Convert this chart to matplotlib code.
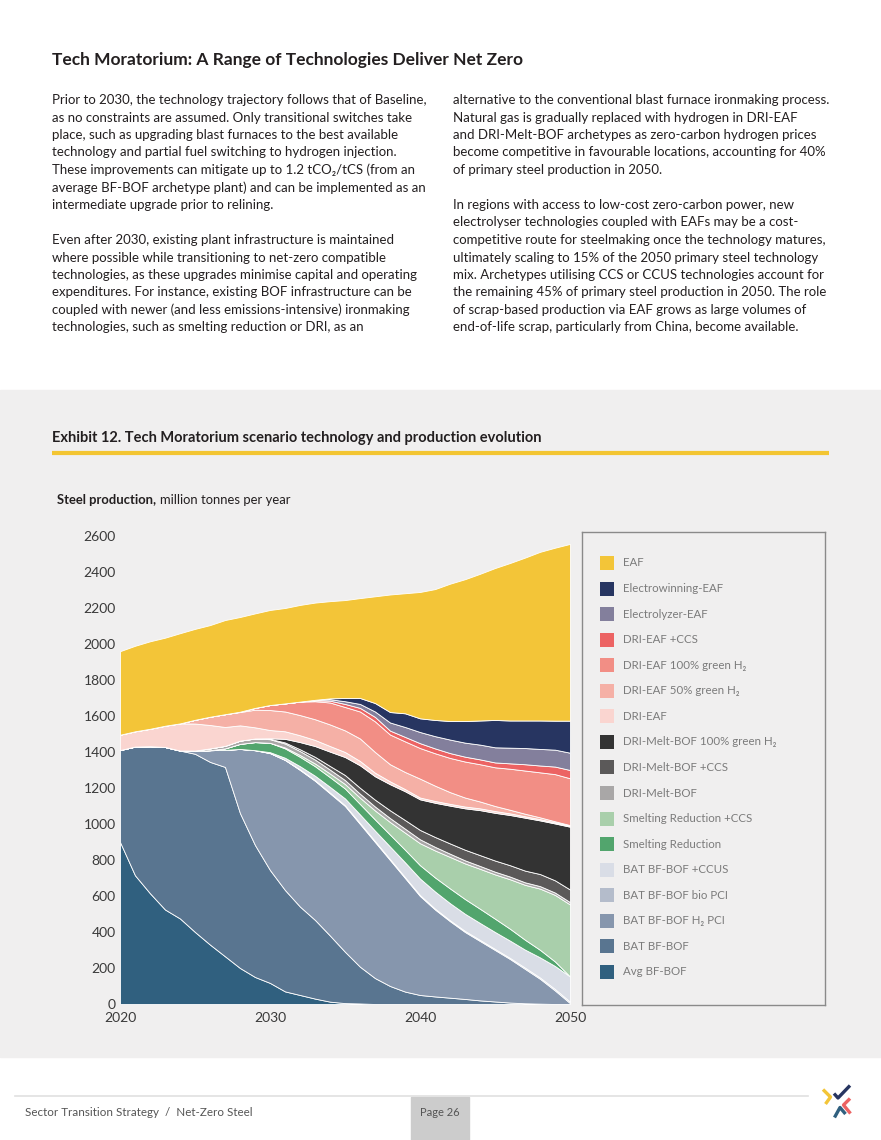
import matplotlib.pyplot as plt
from matplotlib.patches import Rectangle
from matplotlib.lines import Line2D

plt.rcParams['font.family'] = ['Lato', 'DejaVu Sans']

# ---- data (million tonnes per year) ----
YEARS = list(range(2020, 2051))

AVG_BF_BOF = [900, 715, 615, 525, 475, 400, 330, 265, 200, 150,
              117, 70, 50, 30, 13, 5, 3, 0, 0, 0,
              0, 0, 0, 0, 0, 0, 0, 0, 0, 0, 0]
BAT_BF_BOF = [511, 715, 817, 903, 933, 990, 1015, 1052, 860, 733,
              627, 563, 491, 437, 367, 285, 204, 144, 100, 69,
              50, 42, 35, 28, 20, 14, 8, 4, 2, 0, 0]
BAT_H2_PCI = [0, 0, 0, 0, 0, 15, 65, 95, 357, 527,
              650, 723, 759, 773, 790, 810, 793, 756, 700, 631,
              550, 483, 425, 372, 330, 286, 242, 191, 138, 75, 5]
BAT_BIO_PCI = [0, 0, 0, 0, 0, 0, 0, 0, 0, 0,
               0, 0, 3, 3, 4, 4, 5, 5, 5, 5,
               5, 5, 5, 6, 6, 6, 6, 7, 7, 8, 8]
BAT_CCUS = [0, 0, 0, 0, 0, 0, 0, 0, 0, 0,
            5, 12, 18, 25, 32, 38, 48, 58, 70, 82,
            92, 95, 95, 95, 94, 94, 96, 100, 112, 128, 140]
SR = [0, 0, 0, 0, 0, 0, 0, 8, 28, 45,
      52, 52, 52, 53, 54, 55, 58, 62, 66, 70,
      74, 78, 82, 82, 79, 74, 66, 55, 42, 25, 0]
SR_CCS = [0, 0, 0, 0, 0, 0, 0, 0, 0, 0,
          0, 5, 10, 15, 20, 25, 35, 50, 70, 95,
          122, 150, 175, 198, 222, 246, 275, 305, 340, 370, 400]
DRI_MELT = [0, 0, 0, 0, 0, 3, 10, 14, 18, 20,
            20, 22, 22, 22, 22, 22, 22, 22, 22, 22,
            22, 20, 18, 17, 16, 15, 15, 14, 14, 13, 13]
DRI_MELT_CCS = [0, 0, 0, 0, 0, 0, 0, 0, 0, 0,
                2, 6, 10, 15, 20, 28, 33, 38, 43, 48,
                52, 55, 57, 59, 60, 62, 63, 65, 67, 68, 70]
DRI_MELT_H2 = [0, 0, 0, 0, 0, 0, 0, 0, 0, 0,
               3, 20, 40, 60, 80, 100, 125, 130, 145, 160,
               170, 190, 210, 230, 250, 265, 279, 294, 298, 316, 349]
DRI_EAF = [85, 85, 97, 118, 151, 150, 130, 105, 85, 62,
           46, 42, 38, 34, 31, 28, 24, 20, 16, 12,
           10, 10, 10, 10, 10, 10, 9, 8, 7, 6, 5]
DRI_EAF_50 = [0, 0, 0, 0, 0, 21, 46, 71, 74, 98,
              111, 110, 112, 115, 120, 120, 125, 115, 95, 95,
              105, 85, 65, 50, 38, 28, 20, 14, 10, 6, 4]
DRI_EAF_100 = [0, 0, 0, 0, 0, 0, 0, 0, 2, 10,
               28, 45, 75, 100, 122, 130, 150, 170, 165, 170,
               170, 180, 190, 200, 207, 215, 228, 240, 250, 262, 260]
DRI_EAF_CCS = [0, 0, 0, 0, 0, 0, 0, 0, 0, 0,
               0, 0, 0, 5, 10, 17, 20, 25, 22, 25,
               27, 27, 27, 27, 27, 27, 30, 35, 38, 42, 46]
ELECTROLYZER = [0, 0, 0, 0, 0, 0, 0, 0, 0, 0,
                0, 0, 0, 3, 8, 15, 22, 30, 45, 55,
                62, 68, 75, 78, 82, 84, 87, 90, 92, 94, 96]
ELECTROWINNING = [0, 0, 0, 0, 0, 0, 0, 0, 0, 0,
                  0, 0, 0, 0, 5, 18, 33, 47, 58, 76,
                  76, 90, 103, 120, 134, 152, 151, 153, 158, 161, 178]
EAF = [464, 475, 486, 489, 501, 505, 509, 523, 526, 525,
       528, 530, 537, 540, 540, 544, 555, 593, 653, 667,
       702, 727, 763, 788, 815, 844, 875, 905, 937, 961, 982]

# bottom -> top
SERIES = [
    ("Avg BF-BOF", "#30607f", AVG_BF_BOF),
    ("BAT BF-BOF", "#597590", BAT_BF_BOF),
    ("BAT BF-BOF H\u2082 PCI", "#8696ad", BAT_H2_PCI),
    ("BAT BF-BOF bio PCI", "#b4bccb", BAT_BIO_PCI),
    ("BAT BF-BOF +CCUS", "#d9dde6", BAT_CCUS),
    ("Smelting Reduction", "#52a56d", SR),
    ("Smelting Reduction +CCS", "#a9cfab", SR_CCS),
    ("DRI-Melt-BOF", "#a9a7a7", DRI_MELT),
    ("DRI-Melt-BOF +CCS", "#5b5959", DRI_MELT_CCS),
    ("DRI-Melt-BOF 100% green H\u2082", "#333333", DRI_MELT_H2),
    ("DRI-EAF", "#fad5d0", DRI_EAF),
    ("DRI-EAF 50% green H\u2082", "#f5b0a6", DRI_EAF_50),
    ("DRI-EAF 100% green H\u2082", "#f28e85", DRI_EAF_100),
    ("DRI-EAF +CCS", "#ec6363", DRI_EAF_CCS),
    ("Electrolyzer-EAF", "#837f9c", ELECTROLYZER),
    ("Electrowinning-EAF", "#273561", ELECTROWINNING),
    ("EAF", "#f3c538", EAF),
]

Y_TICKS = list(range(0, 2601, 200))
X_TICKS = [2020, 2030, 2040, 2050]

TITLE = "Tech Moratorium: A Range of Technologies Deliver Net Zero"
LEFT_COL = [
    "Prior to 2030, the technology trajectory follows that of Baseline,",
    "as no constraints are assumed. Only transitional switches take",
    "place, such as upgrading blast furnaces to the best available",
    "technology and partial fuel switching to hydrogen injection.",
    "These improvements can mitigate up to 1.2 tCO\u2082/tCS (from an",
    "average BF-BOF archetype plant) and can be implemented as an",
    "intermediate upgrade prior to relining.",
    "",
    "Even after 2030, existing plant infrastructure is maintained",
    "where possible while transitioning to net-zero compatible",
    "technologies, as these upgrades minimise capital and operating",
    "expenditures. For instance, existing BOF infrastructure can be",
    "coupled with newer (and less emissions-intensive) ironmaking",
    "technologies, such as smelting reduction or DRI, as an",
]
RIGHT_COL = [
    "alternative to the conventional blast furnace ironmaking process.",
    "Natural gas is gradually replaced with hydrogen in DRI-EAF",
    "and DRI-Melt-BOF archetypes as zero-carbon hydrogen prices",
    "become competitive in favourable locations, accounting for 40%",
    "of primary steel production in 2050.",
    "",
    "In regions with access to low-cost zero-carbon power, new",
    "electrolyser technologies coupled with EAFs may be a cost-",
    "competitive route for steelmaking once the technology matures,",
    "ultimately scaling to 15% of the 2050 primary steel technology",
    "mix. Archetypes utilising CCS or CCUS technologies account for",
    "the remaining 45% of primary steel production in 2050. The role",
    "of scrap-based production via EAF grows as large volumes of",
    "end-of-life scrap, particularly from China, become available.",
]

TEXT = "#231f20"
BAND = "#f0efef"
W, H = 881, 1140


def fx(x):
    return x / W


def fy(y):
    return 1 - y / H


fig = plt.figure(figsize=(W / 100, H / 100), dpi=100)
fig.patch.set_facecolor("white")

# grey band behind the exhibit (below the axes)
fig.patches.append(Rectangle((0, fy(1057)), 1, (1057 - 390) / H,
                             transform=fig.transFigure, color=BAND,
                             zorder=-5))

# ── page text ────────────────────────────────────────────────────────────
fig.text(fx(52), fy(60), TITLE, fontsize=12.5, fontweight="bold",
         color=TEXT, va="center")
for i, line in enumerate(LEFT_COL):
    fig.text(fx(52), fy(100 + i * 17.5), line, fontsize=9.55,
             color=TEXT, va="center")
for i, line in enumerate(RIGHT_COL):
    fig.text(fx(453), fy(100 + i * 17.5), line, fontsize=9.55,
             color=TEXT, va="center")

fig.text(fx(52), fy(438), "Exhibit 12. Tech Moratorium scenario technology "
         "and production evolution", fontsize=10.5, fontweight="bold",
         color=TEXT, va="center")
fig.add_artist(Line2D([fx(52), fx(829)], [fy(453), fy(453)],
                      color="#f3c532", lw=3, solid_capstyle="butt"))

t1 = fig.text(fx(57), fy(500), "Steel production,", fontsize=9.4,
              fontweight="bold", color=TEXT, va="center")
fig.canvas.draw()
bb = t1.get_window_extent(renderer=fig.canvas.get_renderer())
fig.text(bb.x1 / W + fx(4), fy(500), "million tonnes per year",
         fontsize=9.4, color=TEXT, va="center")

# ── stacked area chart ──────────────────────────────────────────────────
ax = fig.add_axes([fx(120), fy(1004), 450 / W, 468 / H], zorder=2)
ax.set_facecolor("none")
ax.stackplot(YEARS, *[s[2] for s in SERIES], colors=[s[1] for s in SERIES],
             edgecolor="white", linewidth=0.6)
ax.set_xlim(2020, 2050)
ax.set_ylim(0, 2600)
ax.set_yticks(Y_TICKS)
ax.set_xticks(X_TICKS)
ax.tick_params(length=0, labelsize=10, colors="#3a3a3a")
ax.tick_params(axis="y", pad=3)
ax.tick_params(axis="x", pad=6)
for s in ax.spines.values():
    s.set_visible(False)

# ── legend box ─────────────────────────────────────────────────────────
lax = fig.add_axes([fx(582), fy(1005), (825 - 582) / W, (1005 - 532) / H],
                   zorder=2)
lax.set_xlim(0, 243)
lax.set_ylim(473, 0)
lax.set_facecolor("none")
lax.set_xticks([])
lax.set_yticks([])
for s in lax.spines.values():
    s.set_color("#8a8a8a")
    s.set_linewidth(1)
for i, (label, color, _) in enumerate(SERIES[::-1]):
    yc = 31 + i * 25.56
    lax.add_patch(Rectangle((18, yc - 7), 14, 14, color=color, lw=0))
    lax.text(41, yc, label, fontsize=8.3, color="#7b7b7b", va="center")

# ── footer ─────────────────────────────────────────────────────────────
fig.add_artist(Line2D([fx(15), fx(808)], [fy(1096), fy(1096)],
                      color="#e0e0e0", lw=1.2))
fig.text(fx(25), fy(1112), "Sector Transition Strategy  /  Net-Zero Steel",
         fontsize=8.4, color="#555555", va="center")
fig.patches.append(Rectangle((fx(411), 0), 58 / W, (1140 - 1097) / H,
                             transform=fig.transFigure, color="#cccccc",
                             zorder=-4))
fig.text(fx(440), fy(1112), "Page 26", fontsize=8, color="#555555",
         ha="center", va="center")

gax = fig.add_axes([fx(815), fy(1126), 50 / W, 48 / H], zorder=2)
gax.set_xlim(815, 865)
gax.set_ylim(1126, 1078)
gax.axis("off")
for pts, c in [
    ([(823, 1089.5), (830.5, 1097), (825.5, 1104)], "#f3c538"),
    ([(834, 1093.5), (838, 1098), (850, 1085.5)], "#273561"),
    ([(850, 1098.5), (843.5, 1105), (850.5, 1113.5)], "#ec6363"),
    ([(834.5, 1117.5), (840, 1107.5), (845.5, 1114)], "#30607f"),
]:
    gax.plot([p[0] for p in pts], [p[1] for p in pts], color=c, lw=2.4,
             solid_capstyle="butt")

fig.savefig("out.png", dpi=100, facecolor="white")
